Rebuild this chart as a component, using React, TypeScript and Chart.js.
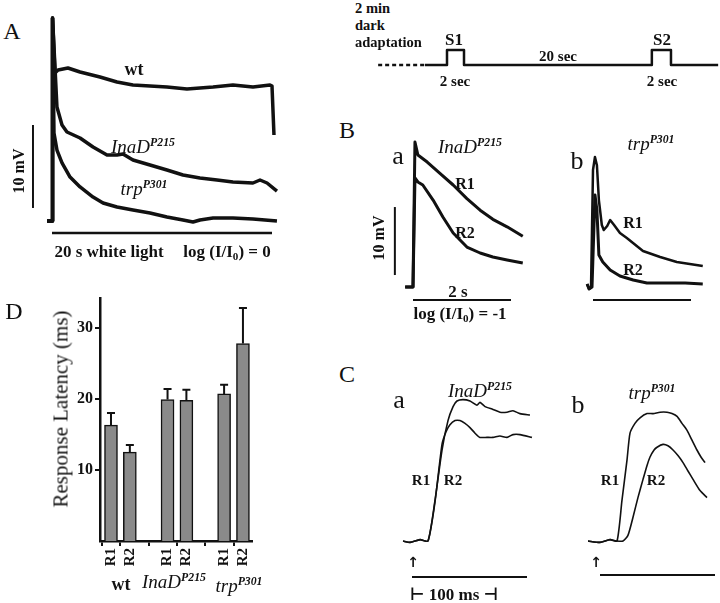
import React, { useEffect, useRef } from "react";
import { Chart, registerables } from "chart.js";

Chart.register(...registerables);

const SERIF = '"Liberation Serif", "DejaVu Serif", serif';
const INK = "#111111";
Chart.defaults.font.family = SERIF;
Chart.defaults.color = INK;

// ---------------- Panel A: 20 s white light, t (s) vs V (mV) ----------------
const aWtT = [-0.45, 0, 0.05, 0.27, 0.55, 1.45, 2.55, 4.36, 5.91, 7.36, 8.91, 10.45, 12.27, 13.45, 14.64, 16.45, 18.27, 19.82, 20.0, 20.18];
const aWtV = [0, 0, 24.46, 17.83, 18.19, 18.43, 17.95, 17.35, 16.75, 16.39, 16.27, 16.14, 15.9, 16.02, 16.14, 16.39, 16.14, 16.39, 16.27, 10.36];
const aInaT = [-0.45, 0, 0.05, 0.45, 0.91, 1.36, 2.55, 3.73, 5.0, 5.91, 6.45, 7.36, 8.91, 10.45, 11.91, 13.45, 15.0, 16.45, 18.27, 18.91, 19.55, 20.45];
const aInaV = [0, 0, 24.46, 13.73, 11.57, 10.72, 10.0, 8.92, 7.95, 7.95, 8.07, 7.35, 6.75, 6.14, 5.54, 5.18, 4.94, 4.7, 4.58, 4.94, 4.58, 3.61];
const aTrpT = [-0.45, 0, 0.05, 0.18, 0.45, 0.91, 1.64, 2.55, 3.73, 4.64, 5.91, 7.36, 8.91, 10.45, 11.91, 12.82, 13.45, 14.64, 16.45, 18.27, 20.45];
const aTrpV = [0, 0, 24.46, 10.6, 8.55, 6.99, 5.3, 4.1, 2.89, 2.17, 1.69, 1.33, 0.96, 0.48, 0.12, -0.12, 0.12, 0.36, 0.36, 0.24, 0];
const aBarMvT = [-1.73, -1.73];
const aBarMvV = [1.57, 11.57];
const aBarSecT = [0, 20];
const aBarSecV = [-1.45, -1.45];

// ---------------- Protocol schematic (schematic time units) ----------------
const protoDarkT = [-8.1, -2.6];
const protoDarkV = [0, 0];
const protoT = [-2.6, 0, 0, 2, 2, 24.1, 24.1, 26.35, 26.35, 31.9];
const protoV = [0, 0, 1, 1, 0, 0, 1, 1, 0, 0];

// ---------------- Panel B: t (s) vs V (mV) ----------------
const baR1T = [-0.16, 0, 0.04, 0.1, 0.29, 0.55, 0.82, 1.1, 1.37, 1.63, 1.92, 2.24];
const baR1V = [0, 0, 21.32, 19.41, 18.38, 16.7, 15.0, 13.0, 11.3, 9.95, 8.85, 7.45];
const baR2T = [-0.16, 0, 0.04, 0.1, 0.2, 0.41, 0.61, 0.82, 1.1, 1.37, 1.63, 1.92, 2.24];
const baR2V = [0, 0, 16.03, 15.44, 15.0, 12.79, 10.29, 7.94, 5.88, 5.0, 4.41, 3.97, 3.53];
const bbR1T = [-0.12, -0.08, -0.04, 0, 0.04, 0.08, 0.12, 0.18, 0.22, 0.29, 0.35, 0.43, 0.55, 0.69, 1.02, 1.37, 1.71, 2.24];
const bbR1V = [0.44, -0.29, 0, 17.2, 19.12, 17.9, 12.79, 9.12, 8.38, 8.97, 9.85, 9.12, 7.94, 7.21, 5.29, 4.41, 3.68, 3.09];
const bbR2T = [-0.12, -0.08, -0.02, 0.04, 0.08, 0.12, 0.2, 0.35, 0.55, 0.82, 1.1, 1.47, 1.88, 2.24];
const bbR2V = [0.44, -0.29, 0, 13.53, 11.3, 4.71, 3.68, 2.5, 1.62, 1.03, 0.59, 0.59, 0.59, 0.44];
const bBarMvT = [-0.37, -0.37];
const bBarMvV = [1.76, 11.76];
const bBarSecT = [0, 2];
const bBarSecV = [-1.91, -1.91];

// ---------------- Panel C: t (ms) vs relative amplitude ----------------
const caR1T = [-7.8, -1.7, 7.0, 13.9, 20.0, 26.1, 31.3, 35.7, 39.1, 44.3, 50.4, 56.5, 59.1, 63.5, 70.4, 76.5, 82.6, 87.8, 93.9, 102.6];
const caR1V = [0, -0.01, 0.01, 0, 0.29, 0.65, 0.86, 0.96, 1.0, 1.01, 1.0, 0.97, 0.99, 0.96, 0.94, 0.92, 0.92, 0.93, 0.91, 0.9];
const caR2T = [-7.8, -1.7, 7.0, 13.9, 20.0, 26.1, 29.6, 33.0, 37.4, 41.7, 46.1, 50.4, 54.8, 59.1, 65.2, 70.4, 76.5, 82.6, 87.8, 93.9, 104.3];
const caR2V = [0, -0.01, 0.01, 0, 0.28, 0.69, 0.78, 0.83, 0.86, 0.86, 0.84, 0.81, 0.77, 0.74, 0.74, 0.74, 0.75, 0.74, 0.76, 0.76, 0.74];
const cbR1T = [-10.4, 0, 8.7, 14.8, 19.1, 23.5, 26.1, 30.4, 34.8, 40.9, 46.1, 52.2, 58.3, 62.6, 67.0, 71.3, 75.7, 80.0, 84.3, 87.8, 91.3];
const cbR1V = [0, -0.01, 0.01, 0, 0.29, 0.58, 0.77, 0.84, 0.88, 0.91, 0.91, 0.92, 0.92, 0.91, 0.89, 0.84, 0.79, 0.72, 0.65, 0.6, 0.56];
const cbR2T = [-10.4, 0, 8.7, 14.8, 20.0, 24.3, 28.7, 33.0, 37.4, 40.9, 43.5, 47.0, 49.6, 54.8, 59.1, 63.5, 67.8, 72.2, 76.5, 80.9, 87.0, 93.0];
const cbR2V = [0, -0.01, 0.01, 0, 0, 0.04, 0.17, 0.31, 0.44, 0.54, 0.6, 0.65, 0.67, 0.69, 0.68, 0.65, 0.61, 0.56, 0.5, 0.44, 0.36, 0.31];
const caBarT = [0, 100];
const caBarV = [-0.257, -0.257];
const cbBarT = [0, 100];
const cbBarV = [-0.243, -0.243];

// ---------------- Panel D: response latency (ms) ----------------
const barLabels = ["R1", "R2", "R1", "R2", "R1", "R2"];
const barPos = [1, 2, 4, 5, 7, 8];
const latency = [16.3, 12.5, 19.9, 19.8, 20.7, 27.8];
const latencyErr = [1.7, 1.0, 1.5, 1.5, 1.3, 5.0];
const latencyTicks = [10, 20, 30];

type Series = { t: number[]; v: number[]; width: number; dash?: number[]; tension?: number };
type TraceProps = {
  left: number; top: number; width: number; height: number;
  x0: number; kx: number; y0: number; ky: number;
  series: Series[];
};

function TraceChart(p: TraceProps) {
  const ref = useRef<HTMLCanvasElement>(null);
  useEffect(() => {
    const chart = new Chart(ref.current as HTMLCanvasElement, {
      type: "line",
      data: {
        datasets: p.series.map((s) => ({
          data: s.t.map((x, i) => ({ x, y: s.v[i] })),
          borderColor: INK,
          borderWidth: s.width,
          borderDash: s.dash || [],
          pointRadius: 0,
          tension: s.tension ?? 0,
          fill: false,
          clip: false as any,
          borderJoinStyle: "round" as const,
          borderCapStyle: "butt" as const,
        })),
      },
      options: {
        responsive: false,
        animation: false,
        events: [],
        layout: { padding: 0 },
        plugins: { legend: { display: false }, tooltip: { enabled: false } },
        scales: {
          x: { type: "linear", display: false, min: (p.left - p.x0) / p.kx, max: (p.left + p.width - p.x0) / p.kx },
          y: { type: "linear", display: false, min: (p.y0 - p.top - p.height) / p.ky, max: (p.y0 - p.top) / p.ky },
        },
      },
    });
    return () => chart.destroy();
  }, []);
  return (
    <canvas
      ref={ref}
      width={p.width}
      height={p.height}
      style={{ position: "absolute", left: p.left, top: p.top, width: p.width, height: p.height }}
    />
  );
}

function LatencyChart() {
  const ref = useRef<HTMLCanvasElement>(null);
  useEffect(() => {
    const errorBars = {
      id: "errorBars",
      afterDatasetsDraw(chart: any) {
        const meta = chart.getDatasetMeta(0);
        const ys = chart.scales.y;
        const ctx = chart.ctx;
        ctx.save();
        ctx.strokeStyle = INK;
        ctx.lineWidth = 2;
        meta.data.forEach((el: any, i: number) => {
          const top = ys.getPixelForValue(latency[i] + latencyErr[i]);
          ctx.beginPath();
          ctx.moveTo(el.x, el.y);
          ctx.lineTo(el.x, top);
          ctx.moveTo(el.x - 4, top);
          ctx.lineTo(el.x + 4, top);
          ctx.stroke();
        });
        ctx.restore();
      },
    };
    const chart = new Chart(ref.current as HTMLCanvasElement, {
      type: "bar",
      data: {
        datasets: [
          {
            data: barPos.map((x, i) => ({ x, y: latency[i] })) as any,
            backgroundColor: "#8a8a8a",
            borderColor: INK,
            borderWidth: 1.5,
            barThickness: 13,
          },
        ],
      },
      options: {
        responsive: false,
        animation: false,
        events: [],
        layout: { padding: { top: 20, right: 18, left: 0, bottom: 0 } },
        plugins: { legend: { display: false }, tooltip: { enabled: false } },
        scales: {
          x: {
            type: "linear",
            min: 0.417,
            max: 8.48,
            offset: false,
            afterBuildTicks: (a: any) => {
              a.ticks = barPos.map((v) => ({ value: v }));
            },
            afterFit: (s: any) => {
              s.height = 62;
            },
            ticks: {
              autoSkip: false,
              minRotation: 90,
              maxRotation: 90,
              padding: 2,
              font: { size: 15, weight: "bold" },
              color: INK,
              callback: (v: any) => barLabels[barPos.indexOf(Number(v))] ?? "",
            },
            grid: { display: true, drawOnChartArea: false, drawTicks: true, tickLength: 5, color: INK, lineWidth: 2 },
            border: { display: true, color: INK, width: 2.5 },
          },
          y: {
            type: "linear",
            min: 0,
            max: 34.2,
            afterBuildTicks: (a: any) => {
              a.ticks = latencyTicks.map((v) => ({ value: v }));
            },
            afterFit: (s: any) => {
              s.width = 100;
            },
            ticks: { padding: 2, font: { size: 16, weight: "bold" }, color: INK },
            grid: { display: true, drawOnChartArea: false, drawTicks: true, tickLength: 5, color: INK, lineWidth: 2 },
            border: { display: true, color: INK, width: 2.5 },
          },
        },
      },
      plugins: [errorBars],
    });
    return () => chart.destroy();
  }, []);
  return (
    <canvas
      ref={ref}
      width={270}
      height={325}
      style={{ position: "absolute", left: 0, top: 278, width: 270, height: 325 }}
    />
  );
}

type TProps = {
  x: number; y: number; s?: number; b?: boolean; i?: boolean; r?: number; a?: "c" | "l"; f?: string;
  children: React.ReactNode;
};
function T({ x, y, s = 16, b = false, i = false, r = 0, a = "c", f, children }: TProps) {
  const tx = a === "l" ? "0" : "-50%";
  return (
    <div
      style={{
        position: "absolute",
        left: x,
        top: y,
        transform: `translate(${tx},-50%) rotate(${r}deg)`,
        fontFamily: f || SERIF,
        fontSize: s,
        fontWeight: b ? 700 : 400,
        fontStyle: i ? "italic" : "normal",
        lineHeight: 1,
        whiteSpace: "nowrap",
        color: INK,
      }}
    >
      {children}
    </div>
  );
}
const Sup = ({ children }: { children: React.ReactNode }) => (
  <span style={{ fontSize: "0.62em", fontWeight: 700, position: "relative", top: "-0.6em" }}>{children}</span>
);
const Sub = ({ children }: { children: React.ReactNode }) => (
  <span style={{ fontSize: "0.65em", position: "relative", top: "0.3em" }}>{children}</span>
);
const ARROW_FONT = '"DejaVu Sans", sans-serif';

export default function App() {
  return (
    <div style={{ position: "fixed", left: 0, top: 0, width: 720, height: 603, background: "#fff", overflow: "hidden" }}>
      {/* Panel A */}
      <TraceChart
        left={25} top={10} width={265} height={232} x0={52} kx={11} y0={221} ky={8.3}
        series={[
          { t: aWtT, v: aWtV, width: 3.5 },
          { t: aInaT, v: aInaV, width: 3.5 },
          { t: aTrpT, v: aTrpV, width: 3.5 },
          { t: aBarMvT, v: aBarMvV, width: 2 },
          { t: aBarSecT, v: aBarSecV, width: 2.5 },
        ]}
      />
      {/* Protocol */}
      <TraceChart
        left={370} top={40} width={350} height={35} x0={447} kx={8.5} y0={65} ky={15}
        series={[
          { t: protoDarkT, v: protoDarkV, width: 2.5, dash: [4, 3] },
          { t: protoT, v: protoV, width: 2.5 },
        ]}
      />
      {/* Panel B */}
      <TraceChart
        left={385} top={130} width={150} height={180} x0={413} kx={49} y0={287} ky={6.8}
        series={[
          { t: baR1T, v: baR1V, width: 3 },
          { t: baR2T, v: baR2V, width: 3 },
          { t: bBarMvT, v: bBarMvV, width: 2 },
          { t: bBarSecT, v: bBarSecV, width: 2 },
        ]}
      />
      <TraceChart
        left={570} top={140} width={145} height={170} x0={593} kx={49} y0={287} ky={6.8}
        series={[
          { t: bbR1T, v: bbR1V, width: 2.5 },
          { t: bbR2T, v: bbR2V, width: 3 },
          { t: bBarSecT, v: bBarSecV, width: 2 },
        ]}
      />
      {/* Panel C */}
      <TraceChart
        left={395} top={390} width={145} height={195} x0={412} kx={1.15} y0={541} ky={140}
        series={[
          { t: caR1T, v: caR1V, width: 1.6, tension: 0.2 },
          { t: caR2T, v: caR2V, width: 1.6, tension: 0.2 },
          { t: caBarT, v: caBarV, width: 2.2 },
        ]}
      />
      <TraceChart
        left={580} top={390} width={140} height={195} x0={600} kx={1.15} y0={541} ky={140}
        series={[
          { t: cbR1T, v: cbR1V, width: 1.6, tension: 0.2 },
          { t: cbR2T, v: cbR2V, width: 1.6, tension: 0.2 },
          { t: cbBarT, v: cbBarV, width: 2.2 },
        ]}
      />
      {/* Panel D */}
      <LatencyChart />

      {/* Text: panel A */}
      <T x={12} y={31} s={24}>A</T>
      <T x={134} y={69} s={18} b>wt</T>
      <T x={143} y={146} s={19} i>InaD<Sup>P215</Sup></T>
      <T x={144} y={188} s={19} i>trp<Sup>P301</Sup></T>
      <T x={19} y={171} s={16} b r={-90}>10 mV</T>
      <T x={109} y={251} s={17} b>20 s white light</T>
      <T x={227} y={251} s={17} b>log (I/I<Sub>0</Sub>) = 0</T>

      {/* Text: protocol */}
      <T x={355} y={8} s={14.5} b a="l">2 min</T>
      <T x={355} y={25} s={14.5} b a="l">dark</T>
      <T x={355} y={42} s={14.5} b a="l">adaptation</T>
      <T x={454} y={39} s={17} b>S1</T>
      <T x={662} y={39} s={17} b>S2</T>
      <T x={558} y={56} s={15} b>20 sec</T>
      <T x={455} y={81} s={15} b>2 sec</T>
      <T x={662} y={81} s={15} b>2 sec</T>

      {/* Text: panel B */}
      <T x={347} y={130} s={24}>B</T>
      <T x={398} y={156} s={26}>a</T>
      <T x={470} y={146} s={19} i>InaD<Sup>P215</Sup></T>
      <T x={465} y={184} s={16} b>R1</T>
      <T x={465} y={233} s={16} b>R2</T>
      <T x={577} y={161} s={26}>b</T>
      <T x={651} y={143} s={19} i>trp<Sup>P301</Sup></T>
      <T x={633} y={223} s={16} b>R1</T>
      <T x={633} y={270} s={16} b>R2</T>
      <T x={379} y={238} s={16} b r={-90}>10 mV</T>
      <T x={458} y={291} s={17} b>2 s</T>
      <T x={460} y={313} s={17} b>log (I/I<Sub>0</Sub>) = -1</T>

      {/* Text: panel C */}
      <T x={347} y={374} s={24}>C</T>
      <T x={399} y={400} s={26}>a</T>
      <T x={480} y={390} s={19} i>InaD<Sup>P215</Sup></T>
      <T x={421} y={480} s={15} b>R1</T>
      <T x={453} y={480} s={15} b>R2</T>
      <T x={413} y={562} s={14} b f={ARROW_FONT}>↑</T>
      <T x={454} y={594} s={17} b>⊢ 100 ms ⊣</T>
      <T x={578} y={405} s={26}>b</T>
      <T x={652} y={392} s={19} i>trp<Sup>P301</Sup></T>
      <T x={610} y={480} s={15} b>R1</T>
      <T x={656} y={480} s={15} b>R2</T>
      <T x={596} y={562} s={14} b f={ARROW_FONT}>↑</T>

      {/* Text: panel D */}
      <T x={14} y={311} s={24}>D</T>
      <T x={61} y={409} s={21} r={-90}>Response Latency (ms)</T>
      <T x={121} y={584} s={18} b>wt</T>
      <T x={174} y={581} s={19} i>InaD<Sup>P215</Sup></T>
      <T x={239} y={585} s={19} i>trp<Sup>P301</Sup></T>
    </div>
  );
}
